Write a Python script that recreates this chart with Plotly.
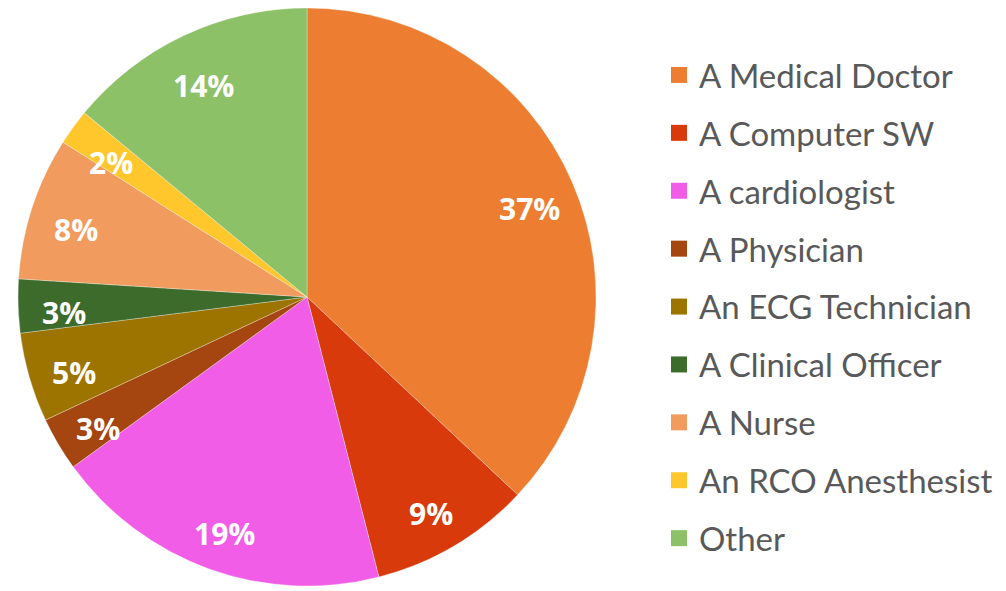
import math
import plotly.graph_objects as go

labels = ["A Medical Doctor", "A Computer SW", "A cardiologist", "A Physician",
          "An ECG Technician", "A Clinical Officer", "A Nurse",
          "An RCO Anesthesist", "Other"]
values = [37, 9, 19, 3, 5, 3, 8, 2, 14]
colors = ["#ED7D31", "#D83A0B", "#F25DE8", "#A5450F", "#9E7400",
          "#3D6B2C", "#F19B5E", "#FFC72C", "#8CC168"]

W, H = 1006, 591
# figure coords (page is offset by the 8px body margin)
cx, cy, R = 299, 289, 289
LABEL_R = 0.84

fig = go.Figure()
fig.add_trace(go.Pie(
    labels=labels, values=values, sort=False, direction="clockwise", rotation=0,
    marker=dict(colors=colors, line=dict(color="rgba(255,255,255,0.6)", width=0.5)),
    textinfo="none", showlegend=False, hoverinfo="label+percent",
    domain=dict(x=[(cx - R) / W, (cx + R) / W], y=[(H - cy - R) / H, (H - cy + R) / H]),
))

# percentage labels placed along each slice's bisector (derived from the values)
total = sum(values)
cum = 0
for v in values:
    mid = (cum + v / 2) / total * 2 * math.pi
    cum += v
    px = cx + LABEL_R * R * math.sin(mid)
    py = cy - LABEL_R * R * math.cos(mid)
    fig.add_annotation(
        x=px / W, y=1 - py / H, xref="paper", yref="paper",
        xanchor="center", yanchor="middle", yshift=-8,
        text=f"{round(v / total * 100)}%", showarrow=False,
        font=dict(family="Open Sans", size=30, color="white", weight="bold"),
    )

for i, (lab, col) in enumerate(zip(labels, colors)):
    fig.add_trace(go.Scatter(
        x=[None], y=[None], mode="markers", name=lab, legendgroup=f"g{i}",
        marker=dict(symbol="square", size=20, color=col),
        showlegend=True, hoverinfo="skip",
    ))

fig.update_layout(
    width=W, height=H,
    margin=dict(l=0, r=0, t=0, b=0),
    paper_bgcolor="white", plot_bgcolor="white",
    xaxis=dict(visible=False), yaxis=dict(visible=False),
    legend=dict(
        x=651 / W, xanchor="left", y=1 - 39 / H, yanchor="top",
        font=dict(family="Lato", size=33, color="#595959"),
        tracegroupgap=12, itemwidth=30, bgcolor="rgba(0,0,0,0)",
    ),
)

fig.write_html("out.html")
